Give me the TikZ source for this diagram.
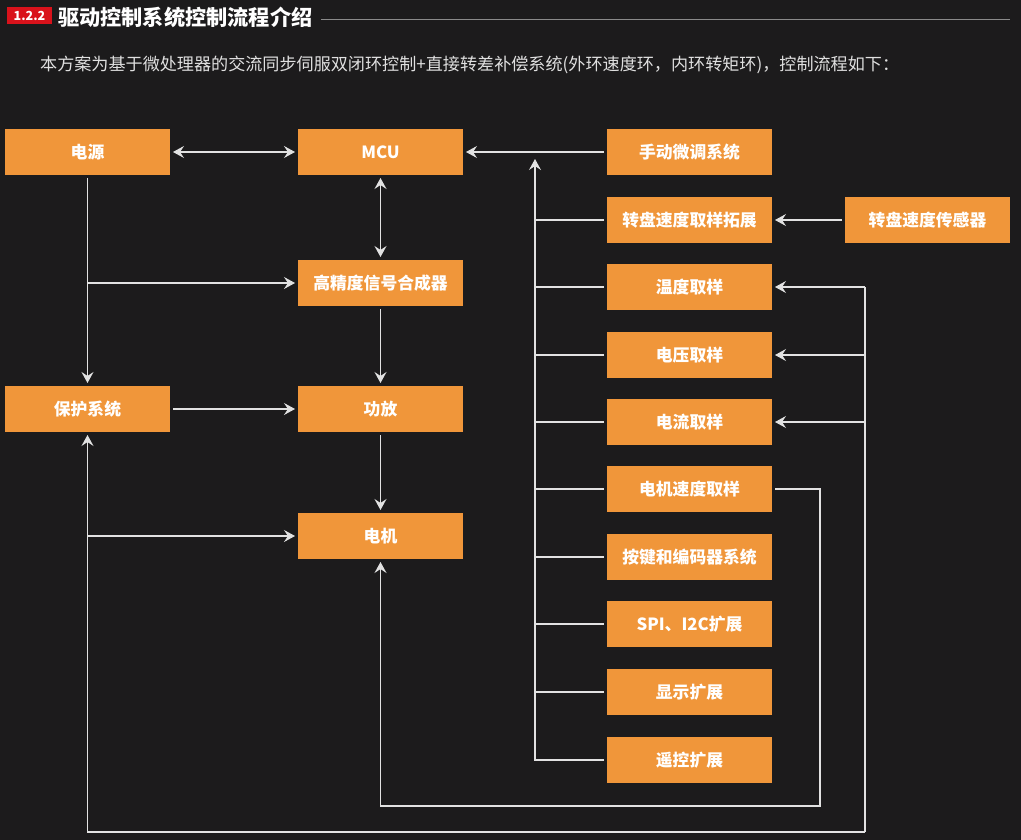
\documentclass[tikz,border=0pt]{standalone}
\usepackage{fontspec}
\setmainfont{Noto Sans CJK SC}
\usetikzlibrary{arrows.meta, positioning, calc}
\definecolor{bgdark}{HTML}{1C1B1C}
\definecolor{boxorange}{HTML}{F0963A}
\definecolor{tagred}{HTML}{D9121B}
\definecolor{rulegray}{HTML}{8A8A8A}
\definecolor{wiregray}{HTML}{E2E2E2}

\begin{document}
\begin{tikzpicture}[x=1pt, y=-1pt,
  blk/.style={fill=boxorange, minimum width=165pt, minimum height=46pt,
    inner sep=0pt, outer sep=3pt, text=white,
    font=\fontsize{16.8}{18}\selectfont\bfseries},
  wire/.style={draw=wiregray, line width=1.1pt},
  arr/.style={wire, -{Stealth[length=11pt, width=12pt, inset=4pt]}},
  darr/.style={wire, {Stealth[length=11pt, width=12pt, inset=4pt]}-{Stealth[length=11pt, width=12pt, inset=4pt]}}]
  \fill[bgdark] (0,0) rectangle (1021,840);
  \useasboundingbox (0,0) rectangle (1021,840);

  % heading
  \node[fill=tagred, text=white, minimum width=45pt, minimum height=17pt, inner sep=0pt,
    font=\fontsize{12.5}{13}\selectfont\bfseries] (tag) at (29.5,16) {1.2.2};
  \node[anchor=west, text=white, inner sep=0pt, font=\fontsize{21.2}{24}\selectfont\bfseries]
    (title) at (58,17) {驱动控制系统控制流程介绍};
  \draw[rulegray, line width=0.8pt] ([xshift=8pt]title.east |- 0,19) -- (1010,19);
  \node[anchor=west, text=white!88!black, inner sep=0pt, font=\fontsize{17.1}{18}\selectfont]
    (intro) at (40,65) {本方案为基于微处理器的交流同步伺服双闭环控制+直接转差补偿系统(外环速度环，内环转矩环)，控制流程如下：};

  % left and middle columns
  \node[blk] (power)   at (87.5,152)  {电源};
  \node[blk] (mcu)     at (380.5,152) {MCU};
  \node[blk] (synth)   at (380.5,283) {高精度信号合成器};
  \node[blk] (protect) at (87.5,409)  {保护系统};
  \node[blk] (amp)     at (380.5,409) {功放};
  \node[blk] (motor)   at (380.5,536) {电机};

  % right column
  \foreach \y/\name/\txt in {152/manual/手动微调系统, 220/dial/转盘速度取样拓展,
      287/temp/温度取样, 355/volt/电压取样, 422/curr/电流取样,
      489/mspeed/电机速度取样, 557/keys/按键和编码器系统,
      624/spi/SPI、I2C扩展, 692/disp/显示扩展, 760/remote/遥控扩展} {
    \node[blk] (\name) at (689.5,\y) {\txt};
  }
  \node[blk] (sensor) at (927.5,220) {转盘速度传感器};

  % power and drive path
  \draw[darr] (power) -- (mcu);
  \draw[darr] (mcu) -- (synth);
  \draw[arr] (synth) -- (amp);
  \draw[arr] (protect) -- (amp);
  \draw[arr] (amp) -- (motor);
  \draw[arr] (power) -- (protect);
  \draw[arr] (power.south |- synth.west) -- (synth.west);

  % inputs to the MCU
  \coordinate (bustop) at (535,159);
  \draw[arr] (manual) -- (mcu);
  \draw[arr] (remote.west) -| (bustop);
  \foreach \name in {dial, temp, volt, curr, mspeed, keys, spi, disp} {
    \draw[wire] (\name.west) -- (\name.west -| bustop);
  }
  \draw[arr] (sensor) -- (dial);

  % feedback loops
  \coordinate (fbcorner) at (865,832);
  \draw[wire] (fbcorner) -- (fbcorner |- temp.east);
  \foreach \name in {temp, volt, curr} {
    \draw[arr] (\name.east -| fbcorner) -- (\name.east);
  }
  \draw[arr] (fbcorner) -| (protect.south);
  \draw[arr] (motor.west -| protect.south) -- (motor.west);
  \coordinate (spdcorner) at (820,806);
  \draw[arr] (mspeed.east) -| (spdcorner) -| (motor.south);
\end{tikzpicture}
\end{document}
